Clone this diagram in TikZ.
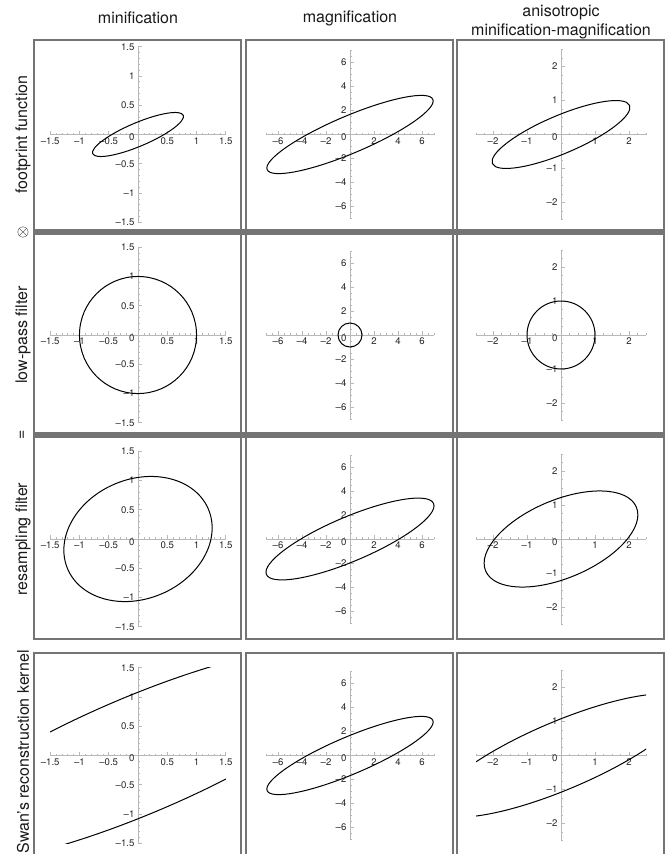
\documentclass[tikz,border=0pt]{standalone}
\usepackage{fontspec}
\setmainfont{TeX Gyre Heros}
\definecolor{framegray}{HTML}{747474}
\definecolor{axisgray}{HTML}{B8B8B8}

% axes of one panel: #1 half range, #2 second minor tick, #3 value/label list
\newcommand{\plotaxes}[3]{%
  \draw[axisline] (-#1,0) -- (#1,0);
  \draw[axisline] (0,-#1) -- (0,#1);
  \foreach \t in {-#1,#2,...,#1} {
    \draw[axisline] (\t,0) -- ++(0,1.5pt);
    \draw[axisline] (0,\t) -- ++(1.5pt,0);
  }
  \foreach \t/\s in {#3} {
    \draw[axisline] (\t,0) -- ++(0,3pt);
    \draw[axisline] (0,\t) -- ++(3pt,0);
    \node[ticklbl,anchor=north,yshift=-1.5pt] at (\t,0) {\s};
    \node[ticklbl,anchor=east,xshift=-2pt] at (0,\t) {\s};
  }
  \node[ticklbl,anchor=east,xshift=-2pt,yshift=-2pt] at (0,0) {0};
}

\begin{document}
\begin{tikzpicture}[x=0.75pt,y=0.75pt,
  frame/.style={draw=framegray,line width=1.2pt},
  axisline/.style={draw=axisgray,line width=0.5pt},
  ticklbl/.style={font=\fontsize{7.2}{8}\selectfont,text=black!85,inner sep=0.5pt},
  curve/.style={line width=0.75pt},
  heading/.style={font=\fontsize{12}{14.8}\selectfont,text=black!90},
  rowlbl/.style={font=\fontsize{12}{14}\selectfont,text=black!90,rotate=90}]
\useasboundingbox (0,0) rectangle (666,-854);

% column headings
\node[heading] (minif) at (138,-18) {minification};
\node[heading] (magnif) at (350,-18) {magnification};
\node[heading,align=center] (aniso) at (561,-22) {anisotropic\\minification-magnification};

% row labels
\node[rowlbl] (foot) at (23,-134.5) {footprint function};
\node[rowlbl] (lowpass) at (23,-335) {low-pass filter};
\node[rowlbl] (resamp) at (23,-539) {resampling filter};
\node[rowlbl] (swan) at (23,-752) {Swan's reconstruction kernel};
\node[font=\fontsize{12}{14}\selectfont] (conv) at (23,-232) {$\otimes$};
\node[rowlbl] (equals) at (23,-435) {=};

% panel frames and bars
\foreach \xa/\xb in {34/241,246/453,457/664}
  \foreach \ya/\yb in {40/232,232/435,435/639,653/858}
    \draw[frame] (\xa,-\ya) rectangle (\xb,-\yb);
\fill[framegray] (34,-229) rectangle (664,-235);
\fill[framegray] (34,-432) rectangle (664,-438);

% axes
\foreach \yc in {134.5,335,539,755.5} {
  \begin{scope}[shift={(138,-\yc)},x=43.9pt,y=43.9pt]
    \plotaxes{1.5}{-1.4}{-1.5/–1.5,-1/–1,-0.5/–0.5,0.5/0.5,1/1,1.5/1.5}
  \end{scope}
  \begin{scope}[shift={(350,-\yc)},x=9pt,y=9pt]
    \plotaxes{7}{-6.5}{-6/–6,-4/–4,-2/–2,2/2,4/4,6/6}
  \end{scope}
  \begin{scope}[shift={(561,-\yc)},x=25.5pt,y=25.5pt]
    \plotaxes{2.5}{-2.25}{-2/–2,-1/–1,1/1,2/2}
  \end{scope}
}

% minification
\begin{scope}[shift={(138,-134.5)},x=43.9pt,y=43.9pt]
  \draw[curve,rotate=23] (0,0) ellipse (0.84 and 0.2);
\end{scope}
\begin{scope}[shift={(138,-335)},x=43.9pt,y=43.9pt]
  \draw[curve] (0,0) circle (1);
\end{scope}
\begin{scope}[shift={(138,-539)},x=43.9pt,y=43.9pt]
  \draw[curve,rotate=23] (0,0) ellipse (1.306 and 1.02);
\end{scope}
\begin{scope}[shift={(138,-755.5)},x=43.9pt,y=43.9pt]
  \clip (-1.5,-1.5) rectangle (1.5,1.5);
  \draw[curve,rotate=23] (0,0) ellipse (4.2 and 1);
\end{scope}

% magnification
\begin{scope}[shift={(350,-134.5)},x=9pt,y=9pt]
  \draw[curve,rotate=23] (0,0) ellipse (7.5 and 1.55);
\end{scope}
\begin{scope}[shift={(350,-335)},x=9pt,y=9pt]
  \draw[curve] (0,0) circle (1);
\end{scope}
\begin{scope}[shift={(350,-539)},x=9pt,y=9pt]
  \draw[curve,rotate=23] (0,0) ellipse (7.566 and 1.845);
\end{scope}
\begin{scope}[shift={(350,-755.5)},x=9pt,y=9pt]
  \draw[curve,rotate=23] (0,0) ellipse (7.5 and 1.55);
\end{scope}

% anisotropic
\begin{scope}[shift={(561,-134.5)},x=25.5pt,y=25.5pt]
  \draw[curve,rotate=23] (0,0) ellipse (2.19 and 0.56);
\end{scope}
\begin{scope}[shift={(561,-335)},x=25.5pt,y=25.5pt]
  \draw[curve] (0,0) circle (1);
\end{scope}
\begin{scope}[shift={(561,-539)},x=25.5pt,y=25.5pt]
  \draw[curve,rotate=23] (0,0) ellipse (2.407 and 1.146);
\end{scope}
\begin{scope}[shift={(561,-755.5)},x=25.5pt,y=25.5pt]
  \clip (-2.5,-2.5) rectangle (2.5,2.5);
  \draw[curve,rotate=23] (0,0) ellipse (4.0 and 1);
\end{scope}
\end{tikzpicture}
\end{document}
